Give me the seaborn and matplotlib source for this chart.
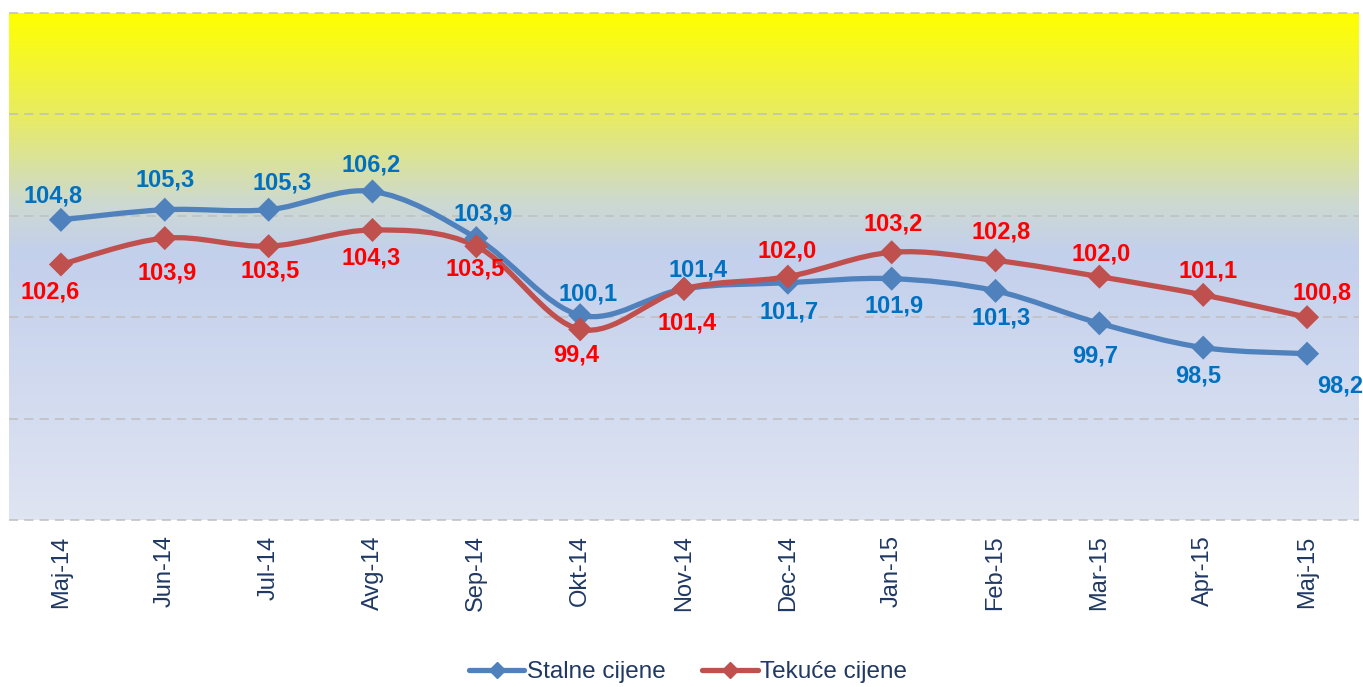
import numpy as np
import pandas as pd
import matplotlib
matplotlib.use('Agg')
import matplotlib.pyplot as plt
import seaborn as sns
from matplotlib.path import Path
from matplotlib.patches import PathPatch
from matplotlib.colors import LinearSegmentedColormap
from matplotlib.lines import Line2D

# --- DATA ---
months = ['Maj-14', 'Jun-14', 'Jul-14', 'Avg-14', 'Sep-14', 'Okt-14', 'Nov-14',
          'Dec-14', 'Jan-15', 'Feb-15', 'Mar-15', 'Apr-15', 'Maj-15']
# point positions as drawn in the source chart
stalne = [104.8, 105.3, 105.3, 106.2, 103.9, 100.1, 101.4, 101.7, 101.9, 101.3, 99.7, 98.5, 98.2]
tekuce = [102.6, 103.9, 103.5, 104.3, 103.5, 99.4, 101.4, 102.0, 103.2, 102.8, 102.0, 101.1, 100.0]
# data labels as printed in the source chart
stalne_lbl = ['104,8', '105,3', '105,3', '106,2', '103,9', '100,1', '101,4',
              '101,7', '101,9', '101,3', '99,7', '98,5', '98,2']
tekuce_lbl = ['102,6', '103,9', '103,5', '104,3', '103,5', '99,4', '101,4',
              '102,0', '103,2', '102,8', '102,0', '101,1', '100,8']

# --- STYLE ---
blue_line, red_line = '#4F81BD', '#C0504D'
blue_txt, red_txt = '#0070C0', '#FF0000'
navy = '#1F3864'

# label offsets in pixels (dx, dy)
blue_off = [(-8, 24), (0, 30), (14, 27), (-1, 26), (7, 24), (8, 21), (14, 19),
            (1, -29), (2, -27), (6, -27), (-4, -33), (-5, -28), (33, -32)]
red_off = [(-11, -28), (2, -35), (2, -25), (-1, -28), (-1, -23), (-4, -26), (3, -34),
           (-1, 26), (1, 28), (6, 28), (2, 23), (5, 24), (15, 24)]

sns.set_style('white')
plt.rcParams['font.family'] = ['Liberation Sans', 'DejaVu Sans']

fig = plt.figure(figsize=(13.63, 6.87), dpi=100)
ax = fig.add_axes([9 / 1363, 1 - 520 / 687, 1350 / 1363, 507 / 687])

x = np.arange(len(months))
ax.set_xlim(-0.5, len(months) - 0.5)
ax.set_ylim(90, 115)

# gradient background (bottom -> top)
cmap = LinearSegmentedColormap.from_list('bg', [
    (0.00, (0.875, 0.895, 0.950)),
    (0.53, (0.765, 0.815, 0.925)),
    (0.62, (0.800, 0.850, 0.830)),
    (0.80, (0.910, 0.925, 0.380)),
    (1.00, (1.000, 1.000, 0.000)),
])
grad = np.linspace(0, 1, 512).reshape(-1, 1)
ax.imshow(grad, extent=[-0.5, len(months) - 0.5, 90, 115], aspect='auto',
          origin='lower', cmap=cmap, zorder=0)

# dashed grid
for v in range(90, 116, 5):
    ax.axhline(v, color='#BFBFBF', lw=1.1, ls=(0, (6, 4)), zorder=1, clip_on=False)


def smooth_path(xs, ys):
    pts = np.column_stack([xs, ys])
    n = len(pts)
    verts = [pts[0]]
    codes = [Path.MOVETO]
    for i in range(n - 1):
        p_prev = pts[max(i - 1, 0)]
        p0, p1 = pts[i], pts[i + 1]
        p_next = pts[min(i + 2, n - 1)]
        c1 = p0 + (p1 - p_prev) / 6
        c2 = p1 - (p_next - p0) / 6
        verts += [c1, c2, p1]
        codes += [Path.CURVE4] * 3
    return Path(verts, codes)


for vals, col in [(stalne, blue_line), (tekuce, red_line)]:
    ax.add_patch(PathPatch(smooth_path(x, vals), facecolor='none', edgecolor=col,
                           lw=3.8, capstyle='round', joinstyle='round', zorder=3))

df = pd.DataFrame({
    'idx': np.concatenate([x, x]),
    'value': stalne + tekuce,
    'series': ['Stalne cijene'] * len(x) + ['Tekuće cijene'] * len(x),
})
sns.scatterplot(data=df, x='idx', y='value', hue='series',
                palette={'Stalne cijene': blue_line, 'Tekuće cijene': red_line},
                marker='D', s=150, linewidth=0, legend=False, ax=ax, zorder=4)

for i in x:
    for vals, lbls, offs, col in [(stalne, stalne_lbl, blue_off, blue_txt),
                                  (tekuce, tekuce_lbl, red_off, red_txt)]:
        ax.annotate(lbls[i], (i, vals[i]),
                    xytext=offs[i], textcoords='offset pixels', ha='center', va='center',
                    fontsize=17, fontweight='bold', color=col, zorder=5,
                    annotation_clip=False)

ax.set_xticks(x)
ax.set_xticklabels(months, rotation=90, fontsize=17, color=navy)
ax.tick_params(axis='x', length=0, pad=11)
ax.set_yticks([])
ax.set_xlabel('')
ax.set_ylabel('')
for s in ax.spines.values():
    s.set_visible(False)

handles = [Line2D([], [], color=blue_line, lw=3.8, marker='D', ms=8),
           Line2D([], [], color=red_line, lw=3.8, marker='D', ms=8)]
leg = fig.legend(handles, ['Stalne cijene', 'Tekuće cijene'], loc='center',
                 bbox_to_anchor=(688 / 1363, 1 - 672 / 687), ncol=2, frameon=False,
                 fontsize=17.5, handlelength=2.3, handletextpad=0.1, columnspacing=1.5)
for t in leg.get_texts():
    t.set_color(navy)

fig.savefig('out.png', dpi=100)
